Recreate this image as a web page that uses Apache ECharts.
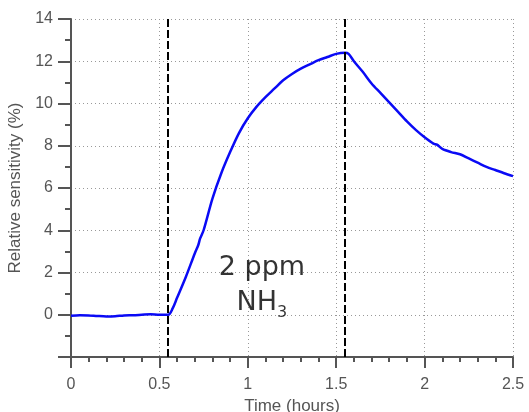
<!DOCTYPE html>
<html><head><meta charset="utf-8">
<script src="https://cdn.jsdelivr.net/npm/echarts@6/dist/echarts.min.js"></script>
<style>html,body{margin:0;padding:0;background:#fff}#c{width:529px;height:412px}</style>
</head><body><div id="c"></div>
<script>
const timeHours = [0,0.05,0.1,0.15,0.2,0.25,0.3,0.35,0.4,0.45,0.5,0.55,0.575,0.6,0.65,0.7,0.72,0.73,0.75,0.8,0.85,0.9,0.95,1.0,1.05,1.1,1.15,1.2,1.25,1.3,1.35,1.4,1.45,1.5,1.55,1.57,1.6,1.65,1.7,1.75,1.8,1.85,1.9,1.95,2.0,2.05,2.07,2.1,2.15,2.2,2.25,2.3,2.35,2.4,2.45,2.5];
const sensitivity = [-0.05,-0.02,-0.03,-0.06,-0.08,-0.07,-0.03,-0.02,0.0,0.02,0.0,0.0,0.3,0.8,1.8,2.9,3.3,3.6,4.0,5.5,6.7,7.7,8.6,9.3,9.85,10.3,10.7,11.1,11.4,11.65,11.85,12.05,12.2,12.35,12.4,12.35,12.0,11.5,10.95,10.5,10.05,9.6,9.15,8.75,8.4,8.1,8.05,7.85,7.7,7.6,7.4,7.2,7.0,6.85,6.7,6.56];
const eventTimes = [0.55, 1.55];
const annotationLines = ['2 ppm', 'NH'];
const annotationPos = [1.08, 1.38];

const chart = echarts.init(document.getElementById('c'));
const axisColor = '#555';
chart.setOption({
  animation: false,
  textStyle: {fontFamily: 'Liberation Sans'},
  grid: {left: 71, right: 16, top: 19, bottom: 55, outerBoundsMode: 'none', containLabel: false},
  xAxis: {
    type: 'value', min: 0, max: 2.5, interval: 0.5,
    name: 'Time (hours)', nameLocation: 'middle', nameGap: 34,
    nameTextStyle: {color: axisColor, fontSize: 17},
    axisLine: {onZero: false, lineStyle: {color: axisColor, width: 2}},
    axisTick: {show: true, length: 11, lineStyle: {color: axisColor, width: 2}},
    minorTick: {show: true, splitNumber: 5, length: 5, lineStyle: {color: axisColor, width: 2}},
    axisLabel: {color: axisColor, fontSize: 16, margin: 20},
    splitLine: {show: true, lineStyle: {color: '#999', type: [1, 3], width: 1}}
  },
  yAxis: {
    type: 'value', min: -2, max: 14, interval: 2,
    name: 'Relative sensitivity (%)', nameLocation: 'middle', nameGap: 44,
    nameTextStyle: {color: axisColor, fontSize: 17},
    axisLine: {show: true, onZero: false, lineStyle: {color: axisColor, width: 2}},
    axisTick: {show: true, length: 13, lineStyle: {color: axisColor, width: 2}},
    minorTick: {show: true, splitNumber: 2, length: 6, lineStyle: {color: axisColor, width: 2}},
    axisLabel: {color: axisColor, fontSize: 16, margin: 18, formatter: v => v === -2 ? '' : String(v)},
    splitLine: {show: true, lineStyle: {color: '#999', type: [1, 3], width: 1}}
  },
  series: [{
    type: 'line',
    data: timeHours.map((t, i) => [t, sensitivity[i]]),
    showSymbol: false,
    smooth: 0.3,
    lineStyle: {color: '#0a0af5', width: 2.5},
    markLine: {
      symbol: 'none', silent: true, label: {show: false},
      lineStyle: {color: '#000', type: [8, 3], width: 2},
      data: eventTimes.map(t => ({xAxis: t}))
    }
  }, {
    type: 'scatter',
    data: [annotationPos],
    symbolSize: 0,
    silent: true,
    label: {
      show: true, position: 'inside', color: '#000', textBorderWidth: 0, textShadowBlur: 0,
      formatter: '{a|' + annotationLines[0] + '}\n{a|' + annotationLines[1] + '}{s|3}',
      rich: {
        a: {fontSize: 27, color: '#000', textBorderWidth: 0, fontFamily: 'DejaVu Sans', lineHeight: 35, align: 'center'},
        s: {fontSize: 16, color: '#000', textBorderWidth: 0, fontFamily: 'DejaVu Sans', verticalAlign: 'bottom', padding: [14, 0, 0, 0], lineHeight: 35}
      }
    }
  }]
});
</script></body></html>
